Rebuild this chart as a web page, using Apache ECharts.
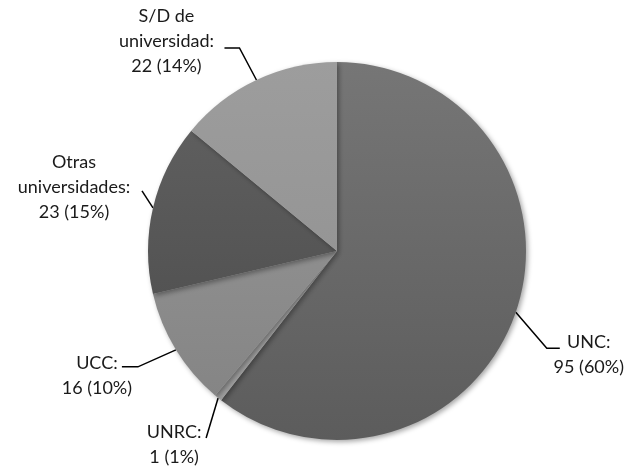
<!DOCTYPE html>
<html>
<head>
<meta charset="utf-8">
<script src="https://cdn.jsdelivr.net/npm/echarts@6/dist/echarts.min.js"></script>
<style>
    html, body { margin: 0; padding: 0; background: #fff; }
    #chart { width: 632px; height: 468px; }
</style>
</head>
<body>
<div id="chart"></div>
<script>
// datos del grafico
var categories = ['UNC', 'UNRC', 'UCC', 'Otras\nuniversidades', 'S/D de\nuniversidad'];
var values = [95, 1, 16, 23, 22];
// tonos (arriba, abajo) de cada porcion
var topColors = ['#767676', '#a8a8a8', '#8e8e8e', '#5e5e5e', '#9d9d9d'];
var bottomColors = ['#5c5c5c', '#9c9c9c', '#858585', '#535353', '#959595'];
// lineas guia: codo [dx, dy] desde el borde, tramo horizontal, centro del texto [dx, dy]
var guideElbow = [[31, 36], [-12, 40], [-38, 17], [-11, -17], [-17, -32]];
var guideFlat = [13, 0, 16, 0, 15];
var textShift = [[73, 42], [-44, 47], [-79, 26], [-79, -21], [-90, -39]];

var chart = echarts.init(document.getElementById('chart'));

var data = categories.map(function (name, i) {
    return {
        name: name,
        value: values[i],
        itemStyle: {
            color: new echarts.graphic.LinearGradient(0, 0, 0, 1, [
                { offset: 0, color: topColors[i] },
                { offset: 1, color: bottomColors[i] }
            ])
        }
    };
});

option = {
    animation: false,
    series: [
        {
            type: 'pie',
            center: [337, 251],
            radius: 189,
            startAngle: 90,
            clockwise: true,
            percentPrecision: 0,
            itemStyle: {
                shadowBlur: 5,
                shadowOffsetX: 2,
                shadowOffsetY: 2,
                shadowColor: 'rgba(0,0,0,0.35)'
            },
            label: {
                show: true,
                position: 'outside',
                formatter: '{b}:\n{c} ({d}%)',
                fontFamily: 'Lato',
                fontSize: 18,
                lineHeight: 25,
                overflow: 'none',
                color: '#1a1a1a'
            },
            labelLine: {
                show: true,
                length: 20,
                length2: 10,
                lineStyle: {
                    color: '#000',
                    width: 1.5
                }
            },
            labelLayout: function (params) {
                var i = params.dataIndex;
                var p = params.labelLinePoints[0];
                var side = guideElbow[i][0] < 0 ? -1 : 1;
                var elbow = [p[0] + guideElbow[i][0], p[1] + guideElbow[i][1]];
                var end = [elbow[0] + side * guideFlat[i], elbow[1]];
                return {
                    x: p[0] + textShift[i][0],
                    y: p[1] + textShift[i][1],
                    align: 'center',
                    verticalAlign: 'middle',
                    labelLinePoints: [p, elbow, end]
                };
            },
            data: data
        }
    ]
};

chart.setOption(option);
</script>
</body>
</html>
